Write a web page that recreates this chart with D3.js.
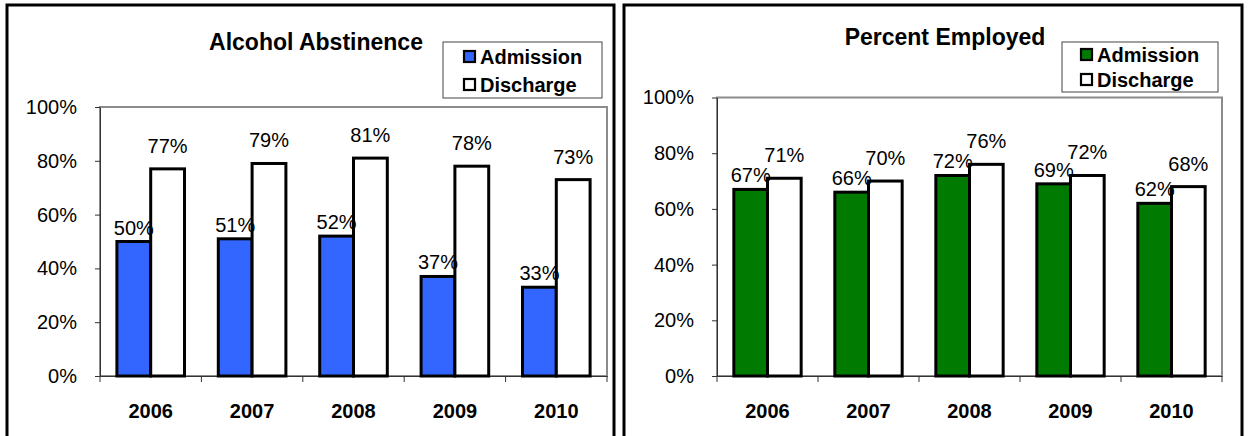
<!DOCTYPE html>
<meta charset="utf-8">
<style>
    body {
        margin: 0;
        background: #fff;
    }

    svg text {
        font-family: "Liberation Sans", Arial, sans-serif;
        fill: #000;
    }

    .axis text {
        font-size: 20px;
    }

    .xaxis text {
        font-weight: bold;
    }

    .label {
        font-size: 20px;
    }

    .title {
        font-size: 23px;
        font-weight: bold;
    }

    .legend text {
        font-size: 20px;
        font-weight: bold;
    }
</style>
<svg class="chart"></svg>
<script src="https://cdn.jsdelivr.net/npm/d3@7"></script>
<script>

    const years = ["2006", "2007", "2008", "2009", "2010"];
    const seriesNames = ["Admission", "Discharge"];
    const yTicks = [0, 0.2, 0.4, 0.6, 0.8, 1];

    const abstinenceAdmission = [0.50, 0.51, 0.52, 0.37, 0.33];
    const abstinenceDischarge = [0.77, 0.79, 0.81, 0.78, 0.73];

    const employedAdmission = [0.67, 0.66, 0.72, 0.69, 0.62];
    const employedDischarge = [0.71, 0.70, 0.76, 0.72, 0.68];

    const width = 1250,
        height = 436;

    const svg = d3.select(".chart")
        .attr("width", width)
        .attr("height", height);

    svg.append("rect")
        .attr("width", width)
        .attr("height", height)
        .attr("fill", "#fff");

    // layout of the two panels (pixels)
    const panels = [
        {
            title: "Alcohol Abstinence",
            color: "#3366FF",
            admission: abstinenceAdmission,
            discharge: abstinenceDischarge,
            frame: {left: 7, right: 614, top: 5},
            plot: {left: 100, right: 607, top: 107, bottom: 376},
            titlePos: {x: 316, y: 50},
            legend: {x: 443, y: 42, w: 159, h: 56, rows: [57, 85], textX: 480}
        },
        {
            title: "Percent Employed",
            color: "#007A00",
            admission: employedAdmission,
            discharge: employedDischarge,
            frame: {left: 624, right: 1242, top: 5},
            plot: {left: 717, right: 1222, top: 97.5, bottom: 376},
            titlePos: {x: 945, y: 45},
            legend: {x: 1062, y: 42, w: 156, h: 50, rows: [55, 80], textX: 1097}
        }
    ];

    panels.forEach(drawPanel);

    function drawPanel(p) {
        const g = svg.append("g");

        // outer frame (open at the bottom, runs past the window)
        g.append("rect")
            .attr("x", p.frame.left)
            .attr("y", p.frame.top)
            .attr("width", p.frame.right - p.frame.left)
            .attr("height", 600)
            .attr("fill", "none")
            .attr("stroke", "#000")
            .attr("stroke-width", 3);

        const xCat = d3.scaleBand()
            .domain(years)
            .range([p.plot.left, p.plot.right]);

        const x0 = d3.scaleBand()
            .domain(years)
            .range([p.plot.left, p.plot.right])
            .paddingInner(1 / 3)
            .paddingOuter(1 / 6);

        const x1 = d3.scaleBand()
            .domain(seriesNames)
            .range([0, x0.bandwidth()]);

        const y = d3.scaleLinear()
            .domain([0, 1])
            .range([p.plot.bottom, p.plot.top]);

        // plot area
        g.append("rect")
            .attr("x", p.plot.left)
            .attr("y", p.plot.top)
            .attr("width", p.plot.right - p.plot.left)
            .attr("height", p.plot.bottom - p.plot.top)
            .attr("fill", "#fff")
            .attr("stroke", "#8c8c8c")
            .attr("stroke-width", 2);

        // y axis
        const yAxis = d3.axisLeft(y)
            .tickValues(yTicks)
            .tickFormat(d3.format(".0%"))
            .tickSize(5)
            .tickSizeOuter(0)
            .tickPadding(18);

        g.append("g")
            .attr("class", "axis yaxis")
            .attr("transform", `translate(${p.plot.left},0)`)
            .call(yAxis)
            .call(a => a.selectAll("line, path").attr("stroke", "#333"));

        // x axis: labels at category centres, ticks on category boundaries
        const xAxis = d3.axisBottom(xCat)
            .tickSize(0)
            .tickPadding(28);

        g.append("g")
            .attr("class", "axis xaxis")
            .attr("transform", `translate(0,${p.plot.bottom})`)
            .call(xAxis)
            .call(a => a.select(".domain").attr("stroke", "#333"));

        const bounds = years.map(d => xCat(d)).concat([xCat.range()[1]]);
        g.append("g")
            .selectAll("line")
            .data(bounds)
            .join("line")
            .attr("x1", d => d)
            .attr("x2", d => d)
            .attr("y1", p.plot.bottom)
            .attr("y2", p.plot.bottom + 6)
            .attr("stroke", "#333");

        const rows = years.map((yr, i) => ({
            year: yr,
            values: [
                {key: "Admission", value: p.admission[i]},
                {key: "Discharge", value: p.discharge[i]}
            ]
        }));

        const colors = {Admission: p.color, Discharge: "#fff"};
        const labelLift = {Admission: 7, Discharge: 16};

        const groups = g.append("g")
            .selectAll("g")
            .data(rows)
            .join("g")
            .attr("transform", d => `translate(${x0(d.year)},0)`);

        groups.selectAll("rect")
            .data(d => d.values)
            .join("rect")
            .attr("x", d => x1(d.key))
            .attr("y", d => y(d.value))
            .attr("width", x1.bandwidth())
            .attr("height", d => y(0) - y(d.value))
            .attr("fill", d => colors[d.key])
            .attr("stroke", "#000")
            .attr("stroke-width", 3);

        groups.selectAll("text")
            .data(d => d.values)
            .join("text")
            .attr("class", "label")
            .attr("x", d => x1(d.key) + x1.bandwidth() / 2)
            .attr("y", d => y(d.value) - labelLift[d.key])
            .attr("text-anchor", "middle")
            .text(d => d3.format(".0%")(d.value));

        // title
        g.append("text")
            .attr("class", "title")
            .attr("x", p.titlePos.x)
            .attr("y", p.titlePos.y)
            .attr("text-anchor", "middle")
            .text(p.title);

        // legend
        const lg = g.append("g").attr("class", "legend");
        lg.append("rect")
            .attr("x", p.legend.x)
            .attr("y", p.legend.y)
            .attr("width", p.legend.w)
            .attr("height", p.legend.h)
            .attr("fill", "#fff")
            .attr("stroke", "#444")
            .attr("stroke-width", 1);

        const items = lg.selectAll("g.item")
            .data(seriesNames)
            .join("g")
            .attr("class", "item")
            .attr("transform", (d, i) => `translate(0,${p.legend.rows[i]})`);

        items.append("rect")
            .attr("x", p.legend.textX - 16)
            .attr("y", -6)
            .attr("width", 11)
            .attr("height", 11)
            .attr("fill", d => colors[d])
            .attr("stroke", "#000")
            .attr("stroke-width", 2.2);

        items.append("text")
            .attr("x", p.legend.textX)
            .attr("dy", "0.36em")
            .text(d => d);
    }

</script>
